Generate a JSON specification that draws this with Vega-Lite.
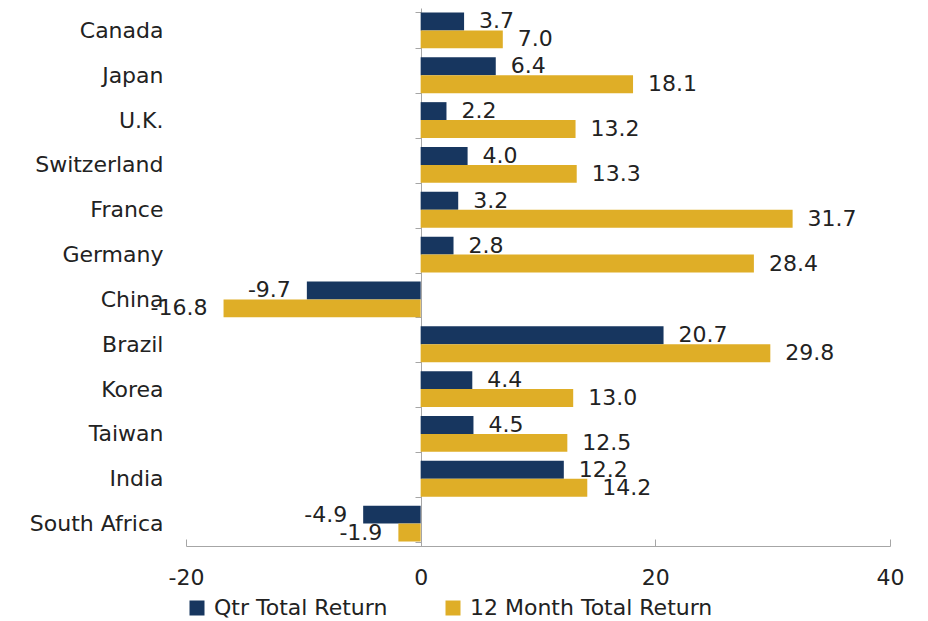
{
  "$schema": "https://vega.github.io/schema/vega-lite/v6.json",
  "width": 704,
  "height": 538,
  "autosize": {"type": "none"},
  "padding": {"left": 186, "top": 8, "right": 38, "bottom": 75},
  "background": "white",
  "config": {
    "font": "DejaVu Sans",
    "view": {"stroke": null},
    "text": {"font": "DejaVu Sans"},
    "locale": {
      "number": {"decimal": ".", "thousands": ",", "grouping": [3], "currency": ["$", ""], "minus": "-"}
    }
  },
  "data": {
    "values": [
      {"country": "Canada", "series": "Qtr Total Return", "value": 3.7},
      {"country": "Canada", "series": "12 Month Total Return", "value": 7.0},
      {"country": "Japan", "series": "Qtr Total Return", "value": 6.4},
      {"country": "Japan", "series": "12 Month Total Return", "value": 18.1},
      {"country": "U.K.", "series": "Qtr Total Return", "value": 2.2},
      {"country": "U.K.", "series": "12 Month Total Return", "value": 13.2},
      {"country": "Switzerland", "series": "Qtr Total Return", "value": 4.0},
      {"country": "Switzerland", "series": "12 Month Total Return", "value": 13.3},
      {"country": "France", "series": "Qtr Total Return", "value": 3.2},
      {"country": "France", "series": "12 Month Total Return", "value": 31.7},
      {"country": "Germany", "series": "Qtr Total Return", "value": 2.8},
      {"country": "Germany", "series": "12 Month Total Return", "value": 28.4},
      {"country": "China", "series": "Qtr Total Return", "value": -9.7},
      {"country": "China", "series": "12 Month Total Return", "value": -16.8},
      {"country": "Brazil", "series": "Qtr Total Return", "value": 20.7},
      {"country": "Brazil", "series": "12 Month Total Return", "value": 29.8},
      {"country": "Korea", "series": "Qtr Total Return", "value": 4.4},
      {"country": "Korea", "series": "12 Month Total Return", "value": 13.0},
      {"country": "Taiwan", "series": "Qtr Total Return", "value": 4.5},
      {"country": "Taiwan", "series": "12 Month Total Return", "value": 12.5},
      {"country": "India", "series": "Qtr Total Return", "value": 12.2},
      {"country": "India", "series": "12 Month Total Return", "value": 14.2},
      {"country": "South Africa", "series": "Qtr Total Return", "value": -4.9},
      {"country": "South Africa", "series": "12 Month Total Return", "value": -1.9}
    ]
  },
  "encoding": {
    "y": {
      "field": "country",
      "type": "nominal",
      "sort": ["Canada", "Japan", "U.K.", "Switzerland", "France", "Germany", "China", "Brazil", "Korea", "Taiwan", "India", "South Africa"],
      "scale": {"paddingInner": 0.2, "paddingOuter": 0.1},
      "axis": {
        "title": null,
        "offset": -235,
        "domainColor": "#a6a6a6",
        "tickColor": "#a6a6a6",
        "tickSize": 6,
        "tickBand": "extent",
        "labelPadding": 252,
        "labelFontSize": 22,
        "labelColor": "#222222",
        "labelFont": "DejaVu Sans",
        "labelLimit": 300
      }
    },
    "yOffset": {
      "field": "series",
      "type": "nominal",
      "sort": ["Qtr Total Return", "12 Month Total Return"]
    },
    "x": {
      "field": "value",
      "type": "quantitative",
      "scale": {"domain": [-20, 40], "nice": false},
      "axis": {
        "title": null,
        "values": [-20, 0, 20, 40],
        "grid": false,
        "labelFlush": false,
        "domainColor": "#a6a6a6",
        "tickColor": "#a6a6a6",
        "tickSize": -7,
        "labelPadding": 28,
        "labelFontSize": 22,
        "labelColor": "#222222",
        "labelFont": "DejaVu Sans"
      }
    }
  },
  "layer": [
    {
      "mark": {"type": "bar"},
      "encoding": {
        "color": {
          "field": "series",
          "type": "nominal",
          "sort": ["Qtr Total Return", "12 Month Total Return"],
          "scale": {"domain": ["Qtr Total Return", "12 Month Total Return"], "range": ["#17365f", "#dfae27"]},
          "legend": {
            "title": null,
            "orient": "none",
            "legendX": 0,
            "legendY": 589,
            "direction": "horizontal",
            "symbolType": "square",
            "symbolSize": 225,
            "symbolStrokeWidth": 0,
            "labelFontSize": 22,
            "labelColor": "#222222",
            "labelFont": "DejaVu Sans",
            "labelOffset": 6,
            "labelLimit": 400,
            "columnPadding": 54
          }
        }
      }
    },
    {
      "transform": [{"filter": "datum.value >= 0"}],
      "mark": {"type": "text", "align": "left", "baseline": "middle", "dx": 15, "fontSize": 22, "color": "#222222"},
      "encoding": {"text": {"field": "value", "type": "quantitative", "format": ".1f"}}
    },
    {
      "transform": [{"filter": "datum.value < 0"}],
      "mark": {"type": "text", "align": "right", "baseline": "middle", "dx": -16, "fontSize": 22, "color": "#222222"},
      "encoding": {"text": {"field": "value", "type": "quantitative", "format": ".1f"}}
    }
  ]
}
